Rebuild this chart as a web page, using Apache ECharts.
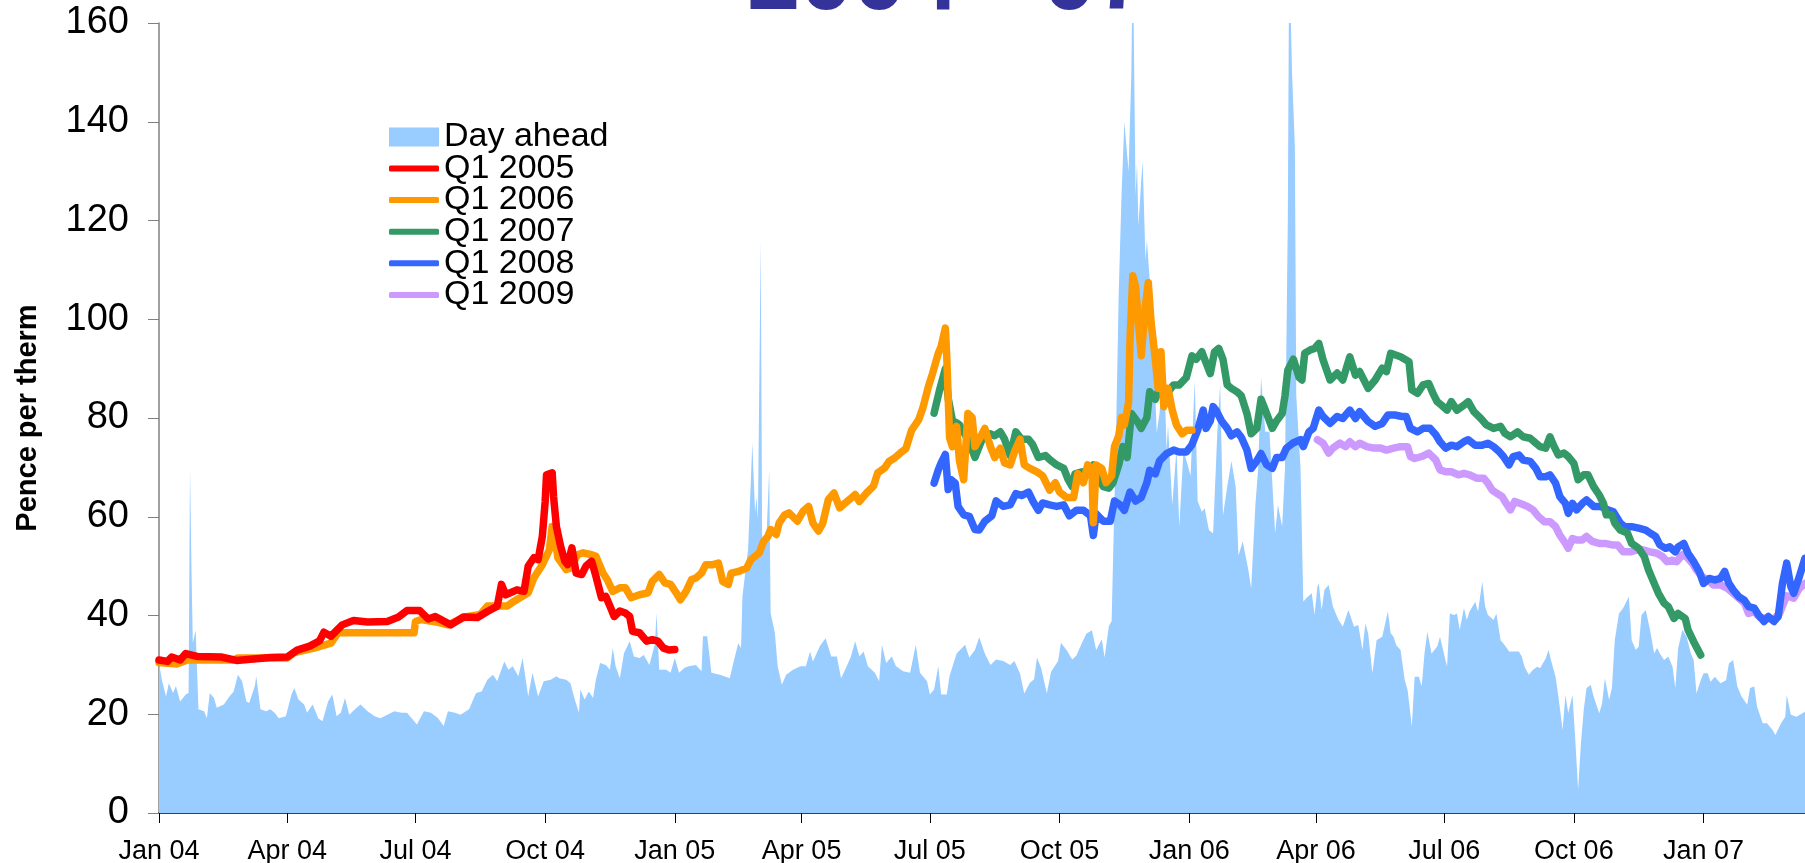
<!DOCTYPE html>
<html lang="en">
<head>
<meta charset="UTF-8">
<title>Gas prices 2004 - 07</title>
<script src="https://cdn.jsdelivr.net/npm/echarts@6.0.0/dist/echarts.min.js"></script>
<style>
  * { margin: 0; padding: 0; }
  html, body { width: 100%; height: 100%; background: #fff; }
  #chart { width: 1805px; height: 863px; }
</style>
</head>
<body>
<div id="chart"></div>
<script>
// x values are days counted from 1 Jan 2004
const quarterDays = [0, 91, 182, 274, 366, 456, 547, 639, 731, 821, 912, 1004, 1096]
const quarterLabels = ['Jan 04', 'Apr 04', 'Jul 04', 'Oct 04', 'Jan 05', 'Apr 05', 'Jul 05',
    'Oct 05', 'Jan 06', 'Apr 06', 'Jul 06', 'Oct 06', 'Jan 07']
const yTicks = {min: 0, max: 160, step: 20}

const dayAhead = [
    [0,30.4],[2,27],[5,23.6],[7,26.3],[10,24.3],[12,25.7],[15,22.6],[19,24],[21,24.3],[22,69.9],[23,50],[24,34.4],[26,37],[28,21],
    [32,20.6],[34,19.2],[36,24.3],[39,23.3],[41,21.3],[46,22],[50,23.6],[53,24.6],[56,28],[59,26.7],[62,22.6],[64,22.3],[68,25.7],
    [69,27.7],[72,21],[76,20.6],[79,21],[82,20.3],[85,19.2],[90,19.6],[94,24],[96,25.3],[99,23],[103,22],[105,20.3],[109,22],
    [113,19.2],[116,18.6],[120,22.6],[123,24],[126,19.6],[129,20.3],[132,23.3],[135,19.9],[139,21],[143,22],[148,20.6],[153,19.6],
    [157,19.2],[162,19.9],[167,20.6],[172,20.3],[176,20.3],[183,17.9],[188,20.6],[193,20.3],[198,19.2],[202,17.6],[205,20.6],
    [210,20.3],[214,19.9],[220,21],[225,24.3],[229,24.6],[233,27],[237,28],[240,26.7],[245,30.7],[248,29],[251,29.7],[255,27.7],
    [258,31.4],[262,23.6],[265,28.4],[269,23.6],[273,26.7],[278,27],[282,27.7],
    [284,27.3],[289,27],[292,26.3],[295,23],[298,20.3],[299,25],[302,23],[305,24.6],[308,23.3],[310,27],[313,30.4],[317,30],
    [320,29],[322,33.4],[324,29.7],[327,27.3],[330,32.4],[334,34.8],[337,31.7],[341,31.4],[344,32],[348,30],[352,34.4],[353,40.5],
    [355,29],[360,29],[363,28.4],[366,31.4],[369,28.4],[373,29.4],[376,29.7],[381,30],[385,28.7],[386,35.8],[389,35.8],[392,28.4],
    [398,28],[405,27.3],[407,29.7],[411,34.4],[413,33.4],[414,43.9],[418,53.3],[420,67.5],[421,75],[423,60.8],[424,64],[425,59.4],
    [427,116],[428,54],[431,55.4],[433,69.5],[434,40.5],[437,36.5],[439,29.7],[442,26],[445,28],[450,29],[455,29.7],[459,29.7],
    [462,32.7],[464,30.7],[469,33.8],[473,35.4],[477,31.7],[481,31.7],[484,27.3],[488,29.7],[491,31.7],[494,34.8],[497,31.7],
    [500,32.7],[503,29.7],[508,28.4],[511,26.7],[513,34.1],[516,30.4],[520,31.7],[523,29.7],[528,28.7],[533,28.4],[537,34.1],
    [540,28.4],[545,26.7],[547,24],[550,25],[553,29.7],[555,24],[559,24],
    [561,27.8],[566,32.3],[572,34.1],[575,31.5],[579,33],[582,35.6],[586,32.3],[590,30],[594,31.1],[599,30.8],[604,30],[607,30.8],
    [611,28.2],[614,24.2],[618,26.4],[621,27.1],[623,31.5],[626,29.3],[630,24.2],[633,28.6],[638,30.8],[640,34.5],[644,33],
    [648,31.1],[651,31.9],[655,34.5],[658,36.3],[662,37],[665,33],[669,35.2],[671,31.5],[674,37.8],[676,38.9],[677,51.4],[679,75],
    [681,105],[683,125],[685,140],[688,130],[690,150],[691,175],[693,125],[694,131.6],[695,119],[697,128],[698,132],[700,112],
    [701,116],[703,108],[706,92],[708,77],[710,81],[713,92],[715,73.5],[716,78.6],[719,62.4],[722,73.5],[724,58],[727,73.5],
    [732,68.3],[735,87.5],[737,63.2],[740,61],[742,61.7],[745,57.3],[748,56.6],[751,77.2],[753,86.7],[755,60.2],[758,66.1],
    [761,71.3],[764,66.1],[766,52.1],[769,55],[773,49.2],[775,45.5],[778,62.4],[780,69.8],[782,88.2],[785,77.2],[788,77.2],
    [792,56.6],[794,62.4],[797,58],[799,69.8],[801,120],[802,175],[804,150],[806,135],[807,84.5],
    [810,70],[812,42.8],[814,43.5],[818,44.5],[820,40.1],[822,45.8],[823,46.5],[825,41.1],[827,45.2],[830,46.2],[833,41.8],
    [837,39.1],[840,37.7],[844,41.1],[848,37.7],[851,38.1],[854,33],[856,38.4],[858,36.4],[861,28.3],[864,35],[868,35.7],
    [872,40.8],[874,36.4],[876,35.7],[878,34],[881,33],[884,26.9],[886,24.9],[889,17.5],[891,27.6],[894,27.6],[896,25.6],
    [898,32.3],[900,36.7],[903,32.3],[907,33.7],[909,35.7],[912,32],[914,29.6],[916,40.4],[919,40.1],[921,40.4],[923,37.1],
    [926,41.5],[928,39.1],[930,40.8],[934,42.8],[936,40.8],[939,46.9],[941,41.8],[943,40.1],[947,39.1],[949,40.4],[952,35],
    [955,34],[958,32.7],[961,32.7],[965,32.7],[967,31.7],[969,29.6],[972,28],[975,29],[978,29.6],[980,29.3],[984,31.3],[986,33],
    [988,30.7],[991,27.6],[993,23.6],[996,16.8],[998,23.9],[1000,20.2],[1003,23.9],[1005,14.8],[1007,4.7],[1009,14.1],
    [1011,20.9],[1013,25.3],[1016,25.9],[1018,23.6],[1022,20.2],[1024,22.2],[1026,27.3],[1029,22.9],[1031,25.3],[1033,35],
    [1036,40.4],[1039,41.5],[1043,43.8],[1045,35],[1048,33],[1050,33.7],[1052,40.1],[1055,41.1],[1058,37.1],[1061,32.3],
    [1063,33.4],[1065,32.3],[1068,31],[1071,31.7],[1074,29.6],[1076,25.3],[1078,33.4],[1081,37.1],[1084,35.7],[1087,32.3],
    [1089,31],[1091,24.2],[1094,26.9],[1096,28.3],[1099,28.3],[1101,26.6],[1104,27.6],[1108,26.3],[1112,26.9],[1114,30.3],
    [1117,31],[1120,25.6],[1123,23.6],[1127,21.9],[1129,25.3],[1132,25.6],[1134,21.5],[1138,18.2],[1141,18.2],[1145,16.8],
    [1147,15.8],[1151,18.2],[1154,19.5],[1155,23.9],[1158,19.9],[1162,19.5],[1168,20.5]
]

const q1of2005 = [
    [0,31],[6,30.7],[9,31.6],[15,31],[19,32.3],[27,31.7],[44,31.6],[55,30.9],[67,31.2],[79,31.5],[91,31.6],[98,33],[107,33.8],
    [114,34.9],[117,36.6],[122,35.8],[130,38.1],[138,39],[148,38.7],[162,38.8],[170,39.7],[176,41],[185,41],[191,39.3],[196,39.8],
    [207,38.1],[216,39.7],[226,39.6],[233,40.8],[240,41.9],[243,46.3],[246,44.2],[254,45.2],[259,44.9],[262,50],[266,51.7],
    [269,51.3],[272,56],[274,63],[275,68.5],[279,68.9],[280,64],[282,58],[285,54],[288,51],[290,50.3],[293,53.7],[296,48.6],
    [300,48.3],[303,50],[307,51],[310,48],[314,43.6],[317,43.9],[321,41.2],[323,39.8],[327,40.9],[331,40.5],[334,39.8],[336,36.8],
    [341,36.5],[346,34.8],[350,35.1],[354,34.8],[358,33.4],[362,33],[366,33.1]
]

const q1of2006 = [
    [0,30.5],[13,30.2],[20,31],[53,31],[56,31.4],[91,31.4],[96,32.5],[110,33.4],[122,34.4],[127,36.5],[129,36.5],[181,36.5],
    [182,38.8],[186,39.2],[198,38.6],[205,38.1],[217,39.7],[228,40.2],[233,41.9],[243,41.9],[247,41.9],[252,42.9],[262,44.6],
    [266,47.6],[272,50.3],[277,53.3],[279,58],[281,56],[283,51.7],[289,49.3],[292,49.6],[297,52.3],[301,52.7],[307,52.3],[310,52],
    [315,48.6],[318,47.3],[322,44.9],[327,45.6],[331,45.6],[335,43.6],[341,44.2],[347,44.6],[350,46.9],[355,48.3],[359,46.6],
    [363,46.3],[367,44.6],[370,43.2],[374,44.9],[378,47.3],[381,47.6],[385,48.6],[388,50.3],[393,50.3],[397,50.6],[400,46.9],
    [404,46.3],[406,48.6],[412,49],[417,49.6],[420,51.3],[426,52.7],[429,55],[432,56],[434,57.4],[438,56.4],[440,58.7],[444,60.4],
    [447,60.8],[453,59.1],[457,61.1],[461,62.1],[464,58.7],[468,57.1],[471,58.7],[475,63.5],[479,64.8],[483,61.8],[487,62.8],
    [490,63.5],[494,64.5],[497,63.1],[502,64.8],[507,66.2],[510,68.9],[515,69.9],[518,71.2],[522,71.9],[526,72.9],[530,73.8],
    [534,77.5],[539,79.6],[542,82],[546,86.4],[549,89.1],[553,93.1],[555,94.5],[558,98.2],[559,92.4],[561,76],[563,74.2],
    [566,78.3],[568,71.3],[571,67.5],[574,80.9],[577,80.1],[579,74.2],[582,75.7],[586,77.9],[590,74.2],[593,72],[597,73.9],
    [600,70.9],[604,70.5],[607,73.1],[611,75.7],[614,70.5],[618,69.8],[623,69.1],[627,68.3],[632,65.4],[636,66.9],[639,65],
    [644,63.9],[649,63.9],[652,68.7],[656,66.9],[659,70.5],[662,69.8],[663,58.8],[665,70.5],[669,69.8],[672,66.9],[676,68.3],
    [678,74.2],[681,76.4],[683,80.1],[685,78.6],[688,83.1],[689,95.6],[691,108.8],[693,106.6],[695,99.3],[697,92.6],[700,102.9],
    [702,107.4],[704,99.3],[707,91.9],[709,86],[711,93.4],[713,82.3],[716,86],[719,81.6],[722,78.6],[726,76.8],[729,77.5],[733,77.5]
]

const q1of2007 = [
    [550,81],[554,85.8],[558,90],[560,84],[563,79.5],[566,79],[568,78.6],[574,75.7],[579,72],[581,73.5],[585,76.4],[590,76.8],
    [593,76.4],[597,77.2],[600,75.7],[604,72.4],[608,77.2],[612,75.7],[617,75.7],[620,74.6],[624,72],[629,72.4],[632,71.6],
    [637,70.5],[642,69.8],[645,67.6],[648,66.1],[650,68.7],[655,69.1],[659,68.7],[663,70.5],[666,68.3],[670,66.1],[674,65.8],
    [677,66.9],[681,70.5],[684,74.2],[687,72],[690,80.9],[694,79.4],[697,77.9],[701,80.1],[703,85.3],[707,83.8],[710,86],
    [715,84.9],[720,86.7],[724,86.7],[729,88.2],[733,92.6],[736,91.9],[740,93.4],[742,91.9],[746,89],[749,93.4],[752,94.1],
    [755,91.9],[758,86.7],[761,86],[765,85.3],[768,84.5],[772,80.9],[775,76.8],[779,77.9],[782,83.8],[786,80.9],[790,77.9],
    [793,79.4],[797,80.9],[799,84.5],[801,89.7],[805,91.9],[809,88.2],[811,87.7],[813,93.1],[817,93.8],[820,94.1],[823,95.1],
    [826,91.8],[831,87.7],[836,89.1],[840,87.7],[845,92.4],[849,88.7],[852,89.4],[858,86],[863,87.7],[868,90.1],[871,89.4],
    [874,93.1],[881,92.4],[887,91.4],[889,85.7],[893,85],[897,86.7],[901,87],[904,85],[907,83.3],[910,82.6],[914,81.6],[917,83.3],
    [921,81.6],[926,82.6],[929,83.3],[933,81.3],[938,79.9],[942,78.6],[947,77.9],[952,78.3],[955,76.9],[959,76.2],[964,77.2],
    [968,76.2],[973,75.9],[977,74.9],[980,74.2],[984,73.9],[987,76.2],[990,74.2],[993,72.5],[997,72.9],[1000,72.2],[1004,70.8],
    [1007,67.5],[1011,68.5],[1014,68.5],[1018,66.1],[1022,64.4],[1025,62.7],[1027,60.4],[1031,60.4],[1033,58.7],[1037,57.3],
    [1042,56.7],[1045,54.6],[1050,53.6],[1054,51.9],[1057,49.2],[1061,46.5],[1064,44.5],[1068,42.5],[1071,41.8],[1075,39.4],
    [1078,40.4],[1083,39.4],[1085,37.1],[1089,34.7],[1094,32]
]

const q1of2008 = [
    [550,66.8],[553,69.5],[555,70.9],[558,72.6],[560,65.5],[562,67.5],[565,66.8],[567,62.1],[571,60.4],[575,60.1],[579,57.4],
    [582,57.3],[586,59.1],[591,60.2],[594,63.2],[599,62.1],[604,62.4],[608,64.7],[612,64.3],[617,65],[620,63.2],[624,61.3],
    [627,62.8],[632,62.4],[637,62.1],[642,62.4],[646,60.2],[651,61.3],[656,61.3],[661,60.2],[663,56.2],[665,60.6],[670,59.1],
    [675,59.1],[678,63.2],[682,62.4],[685,61.3],[689,65],[693,63.2],[697,63.9],[701,66.9],[703,69.4],[707,68.7],[710,71.3],
    [715,72.8],[720,73.5],[724,73.1],[729,73.1],[733,74.6],[737,77.5],[741,81.6],[743,77.9],[746,79.4],[748,82.3],[750,81.6],
    [754,79.4],[758,77.9],[761,76.4],[765,77.2],[768,76.1],[772,73.5],[775,69.8],[779,71.3],[782,72.8],[786,70.5],[790,69.8],
    [793,72],[797,72],[800,73.9],[805,75],[810,75.6],[812,74.2],[816,77.2],[819,77.9],[823,81.6],[826,80.3],[831,78.9],[836,80.3],
    [840,79.9],[845,81.6],[849,79.9],[852,81.3],[858,79.3],[863,78.3],[868,78.9],[872,80.6],[877,80.6],[882,80.3],[885,80.3],
    [888,77.9],[893,77.2],[897,77.9],[902,77.9],[906,76.6],[909,75.2],[913,73.9],[917,74.5],[921,74.2],[926,75.2],[929,75.6],
    [934,74.5],[939,74.5],[943,74.9],[947,74.2],[951,73.2],[954,72.2],[958,70.5],[961,72.2],[965,72.5],[968,71.5],[973,71.2],
    [977,69.8],[980,68.1],[984,68.1],[987,68.5],[991,66.8],[994,64.1],[998,62.7],[1000,60.7],[1003,62.7],[1006,61.4],[1010,62.7],
    [1013,63.4],[1018,62.1],[1023,62.1],[1028,61.4],[1032,61],[1037,58.7],[1040,58],[1045,58],[1050,57.7],[1055,57.3],[1058,56.7],
    [1062,56],[1065,54.3],[1069,53.6],[1072,53.9],[1076,52.9],[1078,53.9],[1082,54.6],[1085,52.6],[1089,50.9],[1093,48.9],
    [1096,46.5],[1100,47.5],[1104,47.2],[1108,47.5],[1111,48.9],[1114,46.5],[1117,45.2],[1121,43.8],[1125,43.1],[1128,41.8],
    [1132,41.5],[1135,40.1],[1139,38.8],[1142,39.8],[1146,38.8],[1149,39.8],[1152,46.5],[1155,50.6],[1158,45.8],[1160,44.5],
    [1164,47.9],[1168,51.6]
]

const q1of2009 = [
    [822,75.6],[826,74.9],[830,72.9],[833,73.9],[838,74.9],[842,74.2],[845,75.2],[849,74.2],[852,74.9],[857,74.2],[862,73.9],
    [867,73.9],[871,73.5],[876,73.9],[881,74.2],[886,74.2],[888,72.2],[891,71.8],[896,72.2],[901,72.9],[906,71.5],[909,69.5],
    [913,69.1],[917,69.1],[922,68.5],[926,68.8],[930,68.5],[935,67.8],[940,67.8],[943,66.8],[946,65.4],[949,64.8],[953,64.1],
    [956,62.7],[959,61.4],[962,63.1],[966,62.7],[971,62.1],[975,61.4],[979,60],[983,59],[987,59],[991,58],[994,56.3],[998,54.6],
    [1000,53.6],[1003,55.6],[1006,55.3],[1010,55.3],[1013,56],[1017,55],[1022,54.6],[1026,54.6],[1031,54.3],[1035,54.3],
    [1039,52.9],[1044,52.9],[1049,53.3],[1053,53.3],[1058,52.9],[1063,52.6],[1067,51.9],[1070,50.9],[1074,51.2],[1077,50.9],
    [1081,52.3],[1084,51.9],[1088,50.6],[1091,49.2],[1095,47.9],[1099,47.2],[1103,46.2],[1108,46.2],[1113,45.5],[1117,44.5],
    [1121,43.5],[1125,42.5],[1128,40.4],[1132,40.8],[1136,39.6],[1141,39.4],[1146,39.3],[1150,40.5],[1155,44],[1160,43.5],
    [1164,45.5],[1168,46.5]
]

const font = "'Liberation Sans', Arial, sans-serif"
const legendText = {fontFamily: font, fontSize: 34, color: '#000', lineHeight: 32}

const lineSeries = function (name, data, color, z) {
    return {
        name: name,
        type: 'line',
        data: data,
        z: z,
        symbol: 'none',
        color: color,
        lineStyle: {color: color, width: 7.5, cap: 'round', join: 'round'}
    }
}

const chart = echarts.init(document.getElementById('chart'))

chart.setOption({
    backgroundColor: '#fff',
    animation: false,
    grid: {left: 159, right: 0, top: 23, bottom: 50, containLabel: false, outerBoundsMode: 'none'},
    graphic: [{
        type: 'text',
        x: 948,
        y: -17,
        style: {
            text: '2004 - 07',
            font: 'bold 95px ' + font,
            fill: '#333399',
            align: 'center',
            verticalAlign: 'middle'
        }
    }],
    legend: [{
        orient: 'vertical',
        left: 384,
        top: 115,
        itemWidth: 50,
        itemHeight: 19,
        itemGap: 0,
        textStyle: legendText,
        data: [{name: 'Day ahead', icon: 'rect'}]
    }, {
        orient: 'vertical',
        left: 384,
        top: 146.5,
        itemWidth: 50,
        itemHeight: 6,
        itemGap: -2.4,
        icon: 'roundRect',
        textStyle: legendText,
        data: ['Q1 2005', 'Q1 2006', 'Q1 2007', 'Q1 2008', 'Q1 2009']
    }],
    xAxis: {
        type: 'value',
        min: 0,
        max: 1168,
        axisLine: {show: true, lineStyle: {color: '#000', width: 1.5}},
        axisTick: {show: true, customValues: quarterDays, length: 10, lineStyle: {color: '#000', width: 1}},
        axisLabel: {
            customValues: quarterDays,
            formatter: (v) => quarterLabels[quarterDays.indexOf(v)],
            fontFamily: font, fontSize: 27, color: '#000', margin: 25
        },
        splitLine: {show: false}
    },
    yAxis: {
        type: 'value',
        min: yTicks.min,
        max: yTicks.max,
        interval: yTicks.step,
        name: 'Pence per therm',
        nameLocation: 'middle',
        nameRotate: 90,
        nameGap: 117,
        nameTextStyle: {fontFamily: font, fontSize: 29, fontWeight: 'bold', color: '#000'},
        axisLine: {show: true, lineStyle: {color: '#808080', width: 1.5}},
        axisTick: {show: true, length: 11, lineStyle: {color: '#808080', width: 1}},
        axisLabel: {fontFamily: font, fontSize: 38, color: '#000', margin: 30},
        splitLine: {show: false}
    },
    series: [
        {
            name: 'Day ahead',
            type: 'line',
            data: dayAhead,
            z: 1,
            symbol: 'none',
            color: '#99CCFF',
            lineStyle: {width: 0},
            areaStyle: {color: '#99CCFF', opacity: 1}
        },
        lineSeries('Q1 2005', q1of2005, '#FF0000', 7),
        lineSeries('Q1 2006', q1of2006, '#FF9900', 6),
        lineSeries('Q1 2007', q1of2007, '#339966', 5),
        lineSeries('Q1 2008', q1of2008, '#3366FF', 4),
        lineSeries('Q1 2009', q1of2009, '#CC99FF', 3)
    ]
})
</script>
</body>
</html>
